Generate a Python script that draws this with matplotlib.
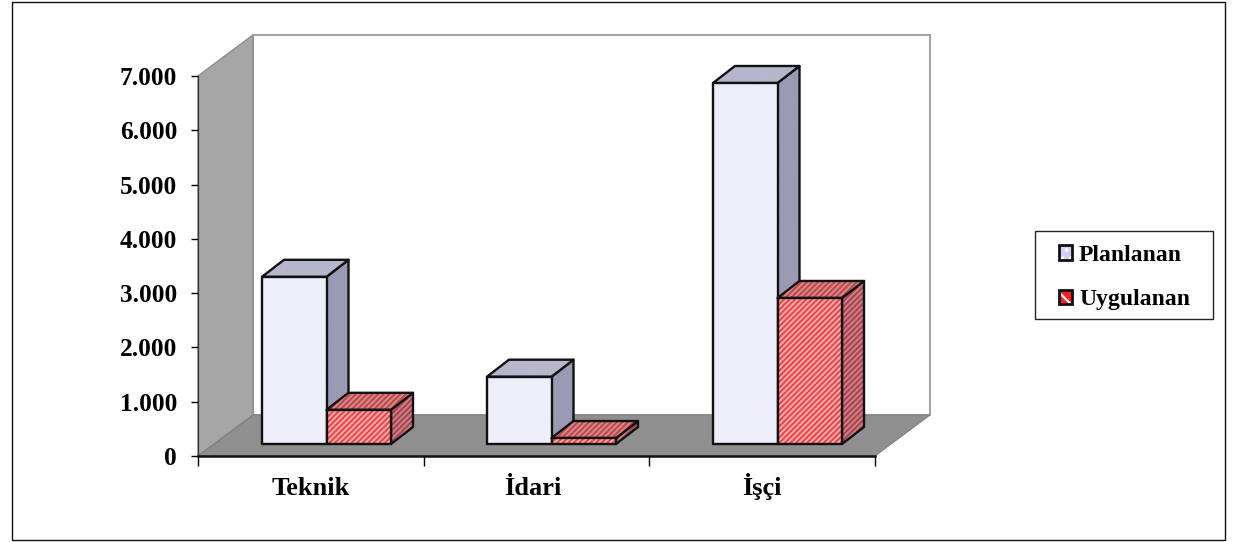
import matplotlib
matplotlib.use("Agg")
import matplotlib.pyplot as plt
from matplotlib.patches import Polygon, Rectangle, Patch
from matplotlib.legend_handler import HandlerTuple

categories = ["Teknik", "İdari", "İşçi"]
series_names = ["Planlanan", "Uygulanan"]
planlanan = [3080, 1240, 6650]
uygulanan = [630, 110, 2690]
y_ticks = [0, 1000, 2000, 3000, 4000, 5000, 6000, 7000]
y_tick_labels = ["0", "1.000", "2.000", "3.000", "4.000", "5.000", "6.000", "7.000"]

W, H = 1238, 542
plt.rcParams["font.family"] = ["Liberation Serif"]
plt.rcParams["font.weight"] = "bold"
plt.rcParams["hatch.linewidth"] = 1.5

fig = plt.figure(figsize=(W / 100, H / 100), dpi=100)
fig.patch.set_facecolor("white")
fig.add_artist(Rectangle((12 / W, 1 - 540 / H), 1213 / W, 538 / H, transform=fig.transFigure,
                         fill=False, edgecolor="#111111", linewidth=1))

L, R, T, B = 198, 875, 76, 456
ax = fig.add_axes([L / W, 1 - B / H, (R - L) / W, (B - T) / H])
ax.set_xlim(0, 3)
ax.set_ylim(0, 7000)
ax.patch.set_alpha(0)

px_x = 3 / (R - L)
px_y = 7000 / (B - T)
DX, DY = 22 * px_x, 17 * px_y          # bar depth
WX, WY = 55 * px_x, 41 * px_y          # wall depth
BASE = 12 * px_y                        # bars stand on the floor, slightly behind the front edge
BAR_W = 64.5 * px_x
STARTS = [(262 - L) * px_x, (487 - L) * px_x, (713 - L) * px_x]


def poly(pts, **kw):
    p = Polygon(pts, closed=True, clip_on=False, **kw)
    ax.add_patch(p)
    return p


# walls and floor
poly([(WX, WY), (3 + WX, WY), (3 + WX, 7000 + WY), (WX, 7000 + WY)],
     facecolor="white", edgecolor="#a4a4a4", linewidth=1.5, zorder=1)
poly([(0, 0), (WX, WY), (WX, 7000 + WY), (0, 7000)], facecolor="#a6a6a6", edgecolor="#8c8c8c",
     linewidth=1, zorder=1.1)
poly([(0, 0), (3, 0), (3 + WX, WY), (WX, WY)], facecolor="#8f8f8f", edgecolor="#808080",
     linewidth=0.8, zorder=1.2)


def face(pts, fc, hc, hatch, z):
    poly(pts, facecolor=fc, edgecolor=hc, hatch=hatch, linewidth=0, zorder=z)
    poly(pts, fill=False, edgecolor="#111111", linewidth=1.7, joinstyle="round", zorder=z + 0.01)


def bar3d(x0, value, cols, hatches, z):
    x1 = x0 + BAR_W
    y0, y1 = BASE, BASE + value
    face([(x1, y0), (x1 + DX, y0 + DY), (x1 + DX, y1 + DY), (x1, y1)], cols[4], cols[5], hatches[1], z)
    face([(x0, y1), (x1, y1), (x1 + DX, y1 + DY), (x0 + DX, y1 + DY)], cols[2], cols[3], hatches[1], z + 0.1)
    face([(x0, y0), (x1, y0), (x1, y1), (x0, y1)], cols[0], cols[1], hatches[0], z + 0.2)


PLAN = ("#e6e6f6", "#f6f6ff", "#b0b0c8", "#bcbcd2", "#9494b0", "#a0a0ba")
UYG = ("#ffb0a8", "#ea4650", "#e08888", "#b84a52", "#d08088", "#a84650")

for i, s in enumerate(STARTS):
    bar3d(s, planlanan[i], PLAN, ("......", "......"), 3 + i)
    bar3d(s + BAR_W, uygulanan[i], UYG, ("//////", "//////"), 3.5 + i)

# axes
for side in ("top", "right"):
    ax.spines[side].set_visible(False)
ax.spines["bottom"].set_linewidth(1.8)
ax.spines["bottom"].set_color("#111111")
ax.spines["left"].set_linewidth(0.9)
ax.spines["left"].set_color("#333333")
for sp in ax.spines.values():
    sp.set_zorder(2)
ax.set_yticks(y_ticks, y_tick_labels)
ax.tick_params(axis="y", length=5, width=1, pad=10, labelsize=18.3)
ax.set_xticks([0, 1, 2, 3], minor=False, labels=[])
ax.tick_params(axis="x", length=7, width=1)
ax.set_xticks([0.5, 1.485, 2.5], categories, minor=True)
ax.tick_params(axis="x", which="minor", length=0, pad=28, labelsize=19)
for lab in ax.get_xticklabels(minor=True):
    lab.set_verticalalignment("baseline")

# legend
fig.add_artist(Rectangle((1035 / W, 1 - 319 / H), 178 / W, 88 / H, transform=fig.transFigure,
                         facecolor="white", edgecolor="#222222", linewidth=1))
outline = dict(fill=False, edgecolor="#111111", linewidth=2)
handles = [(Patch(facecolor="#cfcff2", edgecolor="white", hatch="..", linewidth=0), Patch(**outline)),
           (Patch(facecolor="#ff1f1f", edgecolor="white", hatch="\\\\", linewidth=0), Patch(**outline))]
leg = fig.legend(handles, series_names, loc="center",
                 handler_map={tuple: HandlerTuple(ndivide=1, pad=0)},
                 bbox_to_anchor=(1124.5 / W, 1 - 277.5 / H), prop={"size": 17, "weight": "bold"},
                 frameon=False, handlelength=0.55, handleheight=0.55, handletextpad=0.3,
                 labelspacing=0.98, borderpad=0, borderaxespad=0)

fig.savefig("out.png", dpi=100)
